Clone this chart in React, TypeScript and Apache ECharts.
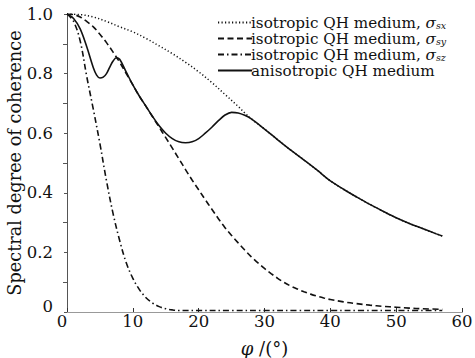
import React, { useEffect, useRef } from "react";
import * as echarts from "echarts";

// φ (degrees) and spectral degree of coherence values
const phiSx = [0, 2, 4, 6, 8, 10, 12, 14, 16, 18, 20, 22, 24, 26, 27, 28, 30, 32, 34, 36, 38, 40, 42, 44, 46, 48, 50, 52, 54, 56, 57];
const valSx = [1.0, 0.998, 0.99, 0.975, 0.957, 0.94, 0.918, 0.893, 0.867, 0.838, 0.806, 0.77, 0.73, 0.69, 0.668, 0.648, 0.614, 0.578, 0.543, 0.51, 0.476, 0.44, 0.412, 0.386, 0.361, 0.338, 0.316, 0.297, 0.28, 0.263, 0.255];

const phiSy = [0, 1, 2, 3, 4, 5, 6, 7, 8, 9, 10, 11, 12, 13, 14, 15, 16, 17, 18, 19, 20, 21, 22, 23, 24, 25, 26, 27, 28, 29, 30, 31, 32, 33, 34, 35, 36, 37, 38, 39, 40, 42, 44, 46, 48, 50, 52, 54, 57];
const valSy = [1.0, 0.998, 0.99, 0.975, 0.957, 0.932, 0.904, 0.872, 0.838, 0.8, 0.762, 0.724, 0.69, 0.655, 0.62, 0.585, 0.55, 0.514, 0.478, 0.443, 0.41, 0.377, 0.345, 0.313, 0.283, 0.257, 0.232, 0.208, 0.185, 0.165, 0.146, 0.129, 0.113, 0.099, 0.087, 0.077, 0.068, 0.06, 0.053, 0.047, 0.042, 0.034, 0.028, 0.023, 0.019, 0.016, 0.013, 0.011, 0.009];

const phiSz = [0, 1, 2, 3, 4, 5, 6, 7, 8, 9, 10, 11, 12, 13, 14, 15, 16, 17, 18, 20, 25, 30, 35, 40, 45, 50, 57];
const valSz = [1.0, 0.975, 0.91, 0.79, 0.68, 0.565, 0.44, 0.33, 0.24, 0.165, 0.113, 0.075, 0.048, 0.03, 0.018, 0.011, 0.007, 0.005, 0.005, 0.005, 0.005, 0.005, 0.005, 0.005, 0.005, 0.005, 0.005];

const phiAn = [0, 1, 2, 3, 4, 4.5, 5, 5.5, 6, 6.5, 7, 7.5, 8, 9, 10, 11, 12, 13, 14, 15, 16, 17, 18, 19, 20, 21, 22, 23, 24, 25, 26, 27, 28, 30, 32, 34, 36, 38, 40, 42, 44, 46, 48, 50, 52, 54, 56, 57];
const valAn = [1.0, 0.985, 0.95, 0.89, 0.82, 0.795, 0.785, 0.788, 0.8, 0.822, 0.842, 0.853, 0.848, 0.805, 0.762, 0.724, 0.69, 0.656, 0.625, 0.6, 0.582, 0.571, 0.568, 0.571, 0.582, 0.6, 0.62, 0.642, 0.661, 0.67, 0.668, 0.66, 0.648, 0.614, 0.578, 0.543, 0.51, 0.476, 0.44, 0.412, 0.386, 0.361, 0.338, 0.316, 0.297, 0.28, 0.263, 0.255];

const seriesNames = ["sx", "sy", "sz", "aniso"];
const legendLabels: Record<string, string> = {
  sx: "isotropic QH medium, {s|σ}{b|sx}",
  sy: "isotropic QH medium, {s|σ}{b|sy}",
  sz: "isotropic QH medium, {s|σ}{b|sz}",
  aniso: "anisotropic QH medium",
};

const FONT = "'DejaVu Serif', 'Liberation Serif', serif";
const INK = "#111";

function pairs(xs: number[], ys: number[]) {
  return xs.map((x, i) => [x, ys[i]]);
}

export default function App() {
  const ref = useRef<HTMLDivElement>(null);
  useEffect(() => {
    if (!ref.current) return;
    const chart = echarts.init(ref.current, undefined, { renderer: "svg" });
    const lineBase = { type: "line", showSymbol: false, symbol: "none", smooth: 0.35, z: 3 };
    const legendText = {
      fontFamily: FONT,
      fontSize: 15.2,
      color: INK,
      lineHeight: 15,
      padding: [0, 0, 0, -6],
      rich: {
        s: { fontFamily: FONT, fontSize: 15.2, fontStyle: "italic", color: INK, lineHeight: 15 },
        b: { fontFamily: FONT, fontSize: 9.5, fontStyle: "italic", color: INK, lineHeight: 7, verticalAlign: "bottom" },
      },
    };
    const legends = seriesNames.map((n, i) => ({
      orient: "vertical",
      left: 217,
      top: 15 + i * 16,
      itemWidth: 34,
      itemHeight: 15,
      itemGap: 0,
      padding: 0,
      data: [n],
      formatter: (name: string) => legendLabels[name],
      itemStyle: { color: "rgba(0,0,0,0)", borderWidth: 0 },
      textStyle: legendText,
    }));
    chart.setOption({
      animation: false,
      backgroundColor: "#fff",
      textStyle: { fontFamily: FONT, color: INK },
      grid: { left: 67, right: 13, top: 14, bottom: 46, containLabel: false, outerBoundsMode: "none" },
      legend: legends,
      xAxis: [
        {
          type: "value",
          min: 0,
          max: 60,
          interval: 10,
          position: "bottom",
          name: "{i|φ} /(°)",
          nameLocation: "middle",
          nameGap: 27,
          nameMoveOverlap: false,
          nameTextStyle: { fontFamily: FONT, fontSize: 18, color: INK, rich: { i: { fontStyle: "italic", fontFamily: FONT, fontSize: 18, color: INK } } },
          axisLine: { show: true, lineStyle: { color: "#333", width: 1 } },
          axisTick: { show: true, inside: true, length: 4, lineStyle: { color: "#333" } },
          splitLine: { show: false },
          axisLabel: {
            fontFamily: FONT,
            fontSize: 16.5,
            color: INK,
            margin: 1,
            formatter: (v: number) => (v === 0 ? "{z|0}" : "{n|" + v + "}"),
            rich: {
              z: { fontFamily: FONT, fontSize: 16.5, color: INK, padding: [0, 10, 0, 0] },
              n: { fontFamily: FONT, fontSize: 16.5, color: INK },
            },
          },
        },
        {
          type: "value",
          min: 0,
          max: 60,
          interval: 10,
          position: "top",
          axisLine: { show: true, lineStyle: { color: "#999", width: 1 } },
          axisTick: { show: false },
          axisLabel: { show: false },
          splitLine: { show: false },
        },
      ],
      yAxis: [
        {
          type: "value",
          min: 0,
          max: 1,
          interval: 0.2,
          position: "left",
          name: "Spectral degree of coherence",
          nameLocation: "middle",
          nameGap: 43,
          nameMoveOverlap: false,
          nameTextStyle: { fontFamily: FONT, fontSize: 17.7, color: INK },
          axisLine: { show: true, lineStyle: { color: "#333", width: 1 } },
          axisTick: { show: false },
          minorTick: { show: true, splitNumber: 2, length: 4, lineStyle: { color: "#555" } },
          splitLine: { show: false },
          minorSplitLine: { show: false },
          axisLabel: {
            fontFamily: FONT,
            fontSize: 16.5,
            color: INK,
            margin: 14,
            formatter: (v: number) => (v === 0 ? "{z|0}" : "{n|" + v.toFixed(1) + "}"),
            rich: {
              z: { fontFamily: FONT, fontSize: 16.5, color: INK, padding: [0, 0, 12, 0] },
              n: { fontFamily: FONT, fontSize: 16.5, color: INK },
            },
          },
        },
        {
          type: "value",
          min: 0,
          max: 1,
          interval: 0.1,
          position: "right",
          axisLine: { show: true, lineStyle: { color: "#555", width: 1 } },
          axisTick: { show: true, inside: true, length: 3, lineStyle: { color: "#555" } },
          axisLabel: { show: false },
          splitLine: { show: false },
        },
      ],
      series: [
        { ...lineBase, name: "sx", data: pairs(phiSx, valSx), lineStyle: { color: INK, width: 1.5, type: [1.2, 2.3] } },
        { ...lineBase, name: "sy", data: pairs(phiSy, valSy), lineStyle: { color: INK, width: 1.6, type: [6, 3.5] } },
        { ...lineBase, name: "sz", data: pairs(phiSz, valSz), lineStyle: { color: INK, width: 1.6, type: [6, 3, 1.5, 3] } },
        { ...lineBase, name: "aniso", data: pairs(phiAn, valAn), lineStyle: { color: INK, width: 1.6, type: "solid" }, z: 4 },
      ],
    });
    return () => chart.dispose();
  }, []);
  return <div ref={ref} style={{ width: 475, height: 358, position: "absolute", left: 0, top: 0 }} />;
}
